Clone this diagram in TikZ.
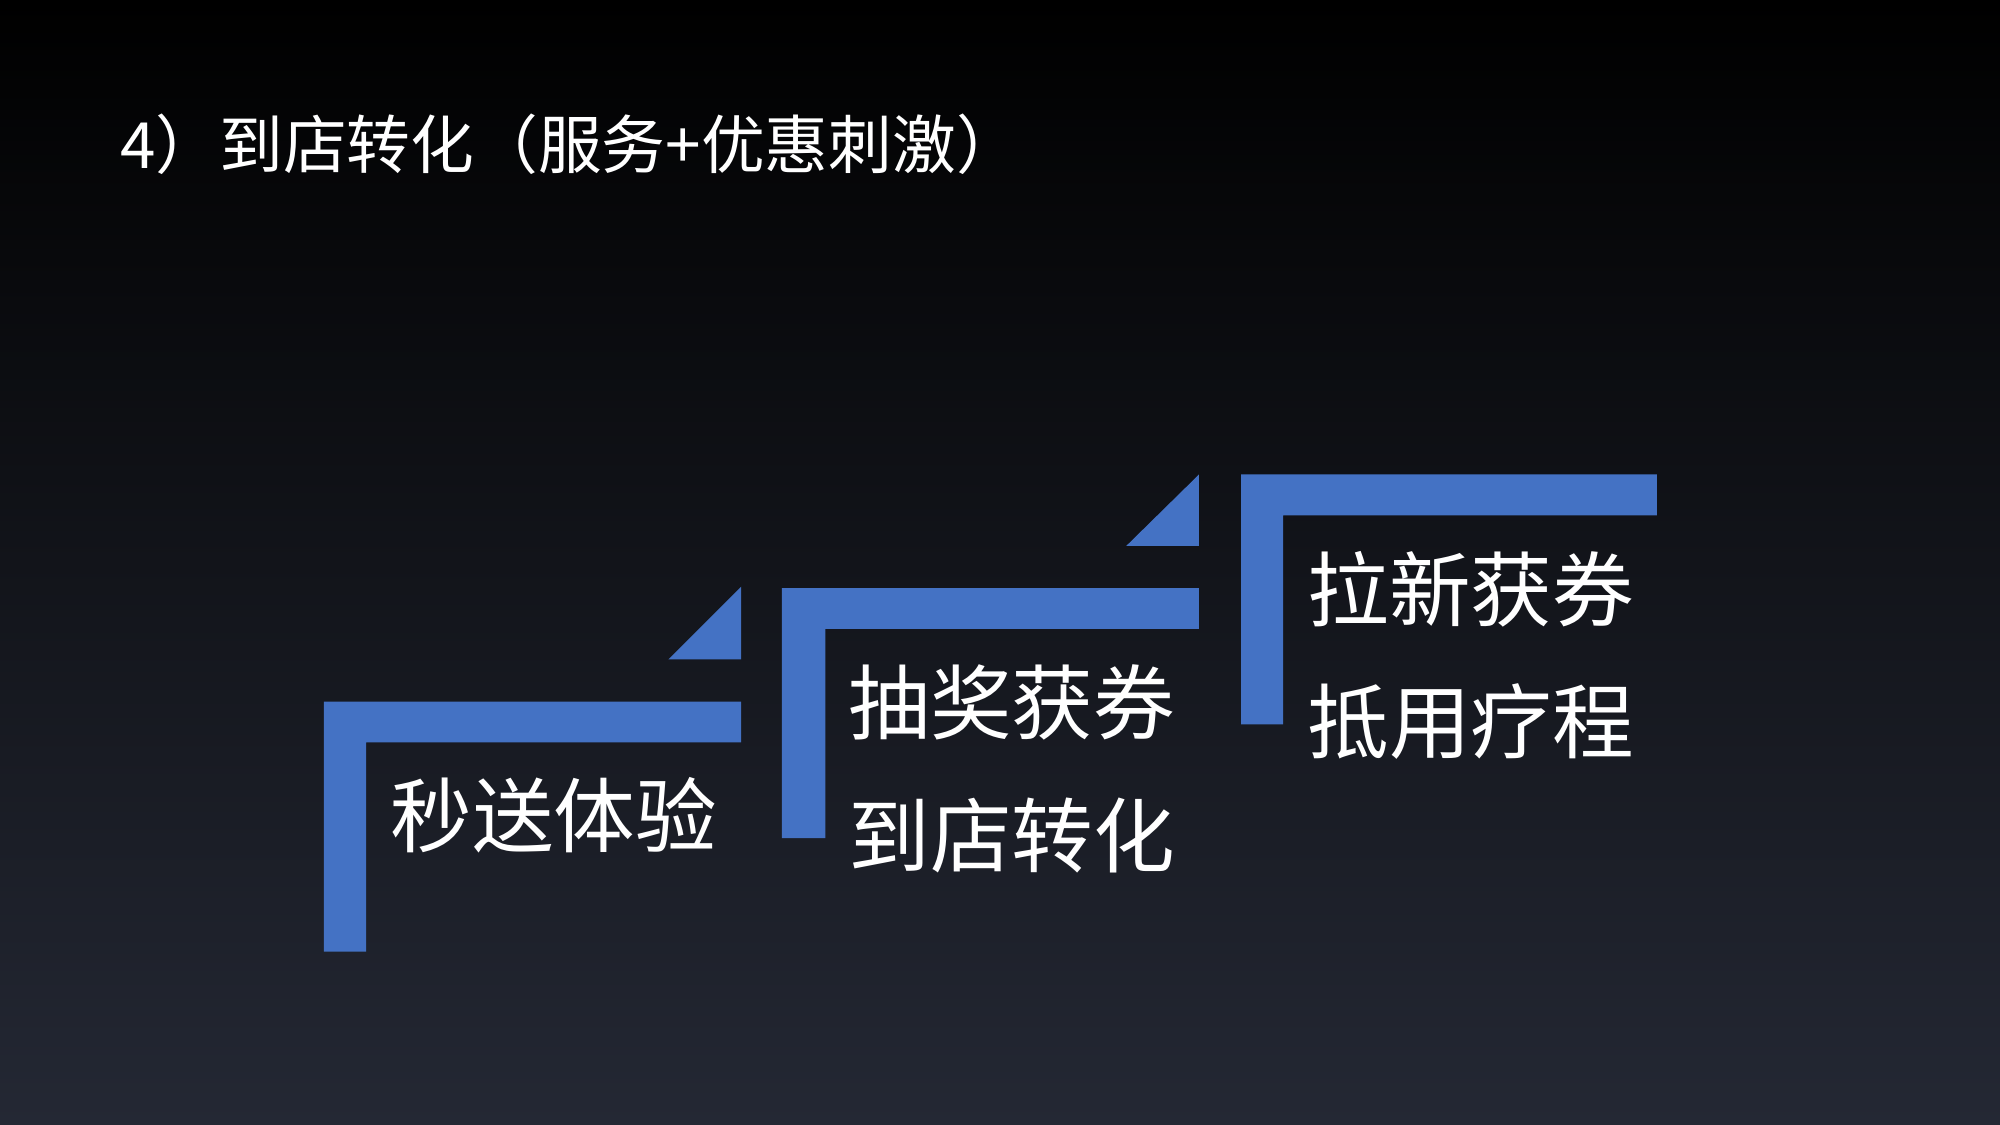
\documentclass[tikz,border=0pt]{standalone}
\usepackage{fontspec}
\setmainfont{Noto Sans CJK SC}
\usepackage{xcolor}
\usepackage{tikz}
\usetikzlibrary{positioning}
\definecolor{stepblue}{HTML}{4472C4}
\definecolor{bgbottom}{HTML}{242834}

\begin{document}
\begin{tikzpicture}[x=1pt, y=-1pt,
    every node/.style={text=white, inner sep=0pt, anchor=west},
    steptext/.style={font=\fontsize{64}{64}\selectfont}]
    % Background
    \shade[top color=black, bottom color=bgbottom] (0,0) rectangle (1568,882);
    \useasboundingbox (0,0) rectangle (1568,882);

    % Title
    \node[font=\fontsize{50}{50}\selectfont] (title) at (94,113) {4）到店转化（服务+优惠刺激）};

    % Step 1
    \fill[stepblue] (254,550) -- (581,550) -- (581,582) -- (287,582) -- (287,746) -- (254,746) -- cycle;
    \fill[stepblue] (524,517) -- (581,517) -- (581,460) -- cycle;
    \node[steptext] (trial) at (306,639) {秒送体验};

    % Step 2
    \fill[stepblue] (613,461) -- (940,461) -- (940,493) -- (647,493) -- (647,657) -- (613,657) -- cycle;
    \fill[stepblue] (883,428) -- (940,428) -- (940,372) -- cycle;
    \node[steptext] (prize) at (665,551) {抽奖获券};
    \node[steptext] (visit) at (665,655) {到店转化};

    % Step 3
    \fill[stepblue] (973,372) -- (1299,372) -- (1299,404) -- (1006,404) -- (1006,568) -- (973,568) -- cycle;
    \node[steptext] (newuser) at (1025,462) {拉新获券};
    \node[steptext] (course) at (1025,566) {抵用疗程};
\end{tikzpicture}
\end{document}
